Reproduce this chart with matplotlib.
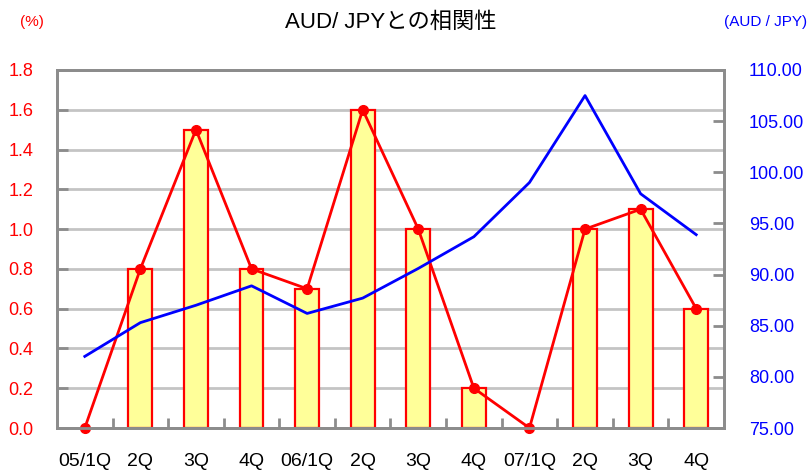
import numpy as np
import matplotlib
matplotlib.use("Agg")
import matplotlib.pyplot as plt
from matplotlib.ticker import FormatStrFormatter, MultipleLocator

plt.rcParams['font.family'] = ['Liberation Sans', 'Noto Sans CJK JP', 'DejaVu Sans']

quarters = ["05/1Q", "2Q", "3Q", "4Q", "06/1Q", "2Q", "3Q", "4Q",
            "07/1Q", "2Q", "3Q", "4Q"]
pct = [0.0, 0.8, 1.5, 0.8, 0.7, 1.6, 1.0, 0.2, 0.0, 1.0, 1.1, 0.6]
audjpy = [82.0, 85.3, 87.0, 88.9, 86.2, 87.7, 90.6, 93.7, 99.0, 107.5, 97.9, 93.9]

x = np.arange(len(quarters))
frame = '#8c8c8c'

fig = plt.figure(figsize=(8.09, 4.73), dpi=100)
ax = fig.add_axes([57 / 809, 45 / 473, 667 / 809, 358 / 473])
ax2 = ax.twinx()

# zero-height bars are not drawn in the original
nz = [i for i, v in enumerate(pct) if v > 0]
ax.bar(x[nz], [pct[i] for i in nz], width=0.43, color='#ffff99',
       edgecolor='red', linewidth=1.6, zorder=2)
ax.plot(x, pct, color='red', lw=2, marker='o', ms=7, zorder=4, clip_on=False)
ax2.plot(x, audjpy, color='blue', lw=2, zorder=3)

ax.set_xlim(-0.5, len(quarters) - 0.5)
ax.set_ylim(0, 1.8)
ax.yaxis.set_major_locator(MultipleLocator(0.2))
ax.yaxis.set_major_formatter(FormatStrFormatter('%.1f'))
ax.grid(axis='y', color='#c4c4c4', lw=2, zorder=0)
ax.set_axisbelow(True)
ax.tick_params(axis='y', direction='in', length=8, width=2, color=frame,
               labelcolor='red', labelsize=13, pad=17)
ax.set_xticks(x)
ax.set_xticklabels(quarters)
ax.set_xticks(np.arange(0.5, len(quarters) - 1, 1), minor=True)
ax.tick_params(axis='x', which='major', length=0, labelsize=14, pad=18)
ax.tick_params(axis='x', which='minor', direction='in', length=7, width=2, color=frame)

ax2.set_ylim(75, 110)
ax2.yaxis.set_major_locator(MultipleLocator(5))
ax2.yaxis.set_major_formatter(FormatStrFormatter('%.2f'))
ax2.tick_params(axis='y', direction='in', length=8, width=2, color=frame,
                labelcolor='blue', labelsize=13, pad=18)

for a in (ax, ax2):
    for s in a.spines.values():
        s.set_color(frame)
        s.set_linewidth(2)

ax.set_title("AUD/ JPYとの相関性", fontsize=16, pad=30)
fig.text(32 / 809, 1 - 22 / 473, "(%)", color='red', fontsize=11, ha='center', va='center')
fig.text(807 / 809, 1 - 22 / 473, "(AUD / JPY)", color='blue', fontsize=11, ha='right', va='center')

fig.savefig("out.png", dpi=100)
